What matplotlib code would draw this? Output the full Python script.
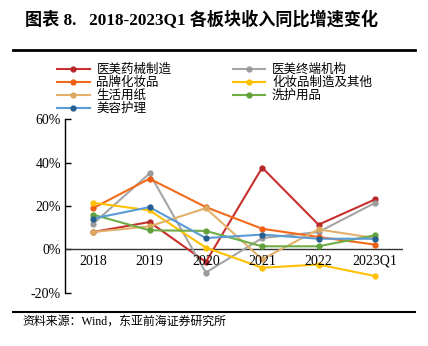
import matplotlib
matplotlib.use("Agg")
import matplotlib.pyplot as plt
from matplotlib.lines import Line2D

plt.rcParams['font.family'] = ['Liberation Serif', 'Noto Sans CJK SC']
plt.rcParams['axes.unicode_minus'] = False

categories = ["2018", "2019", "2020", "2021", "2022", "2023Q1"]
yl_yixie = [8.0, 12.6, -5.8, 37.7, 11.4, 23.0]      # 医美药械制造
yl_zhongduan = [11.8, 35.0, -10.7, 5.2, 8.0, 21.4]  # 医美终端机构
pinpai = [19.0, 32.6, 19.5, 9.5, 5.7, 2.2]          # 品牌化妆品
zhizao = [21.5, 18.0, 0.8, -8.5, -7.0, -12.3]       # 化妆品制造及其他
zhi = [8.0, 10.6, 19.0, -4.6, 9.2, 5.2]             # 生活用纸
xihu = [16.0, 8.8, 8.5, 1.4, 1.4, 6.5]              # 洗护用品
meirong = [14.2, 19.5, 5.2, 6.8, 4.9, 4.9]          # 美容护理

series = [
    ("医美药械制造", yl_yixie, "#C8302E", "#B8282A"),
    ("医美终端机构", yl_zhongduan, "#A5A5A5", "#9A9A9A"),
    ("品牌化妆品", pinpai, "#F26A1B", "#EE5F12"),
    ("化妆品制造及其他", zhizao, "#FFC000", "#FFC000"),
    ("生活用纸", zhi, "#E2B16C", "#DDA95F"),
    ("洗护用品", xihu, "#70AD47", "#62A03C"),
    ("美容护理", meirong, "#5B9BD5", "#255E91"),
]

fig = plt.figure(figsize=(4.28, 3.46), dpi=100)
W, H = 428, 346
ax = fig.add_axes([65 / W, 1 - 292.7 / H, (403 - 65) / W, (292.7 - 119.3) / H])

x = list(range(len(categories)))
handles = {}
for name, vals, lc, mc in series:
    h, = ax.plot(x, vals, color=lc, lw=1.5, marker='o', ms=3.5, mfc=mc, mec=mc, label=name, zorder=3)
    handles[name] = h

ax.set_xlim(-0.5, 5.5)
ax.set_ylim(-20, 60)
ax.set_yticks([-20, 0, 20, 40, 60])
ax.set_yticklabels([f"{v}%" for v in [-20, 0, 20, 40, 60]], fontsize=10)
ax.tick_params(axis='y', direction='in', length=4, width=1, pad=3)
ax.set_xticks([])
for sp in ['top', 'right', 'bottom']:
    ax.spines[sp].set_visible(False)
ax.spines['left'].set_linewidth(1.0)
ax.axhline(0, color='#333333', lw=1.0, zorder=2)
for xi, c in zip(x, categories):
    ax.text(xi, -2.6, c, ha='center', va='top', fontsize=10)

order = ["医美药械制造", "品牌化妆品", "生活用纸", "美容护理", "医美终端机构", "化妆品制造及其他", "洗护用品"]
leg = fig.legend([handles[n] for n in order], order, ncol=2, loc='upper left',
                 bbox_to_anchor=(57 / W, 1 - 63 / H), frameon=False,
                 handlelength=2.6, handletextpad=0.55, columnspacing=4.9, labelspacing=0.0,
                 borderaxespad=0, borderpad=0, prop={'family': ['Noto Sans CJK SC'], 'size': 9})

fig.text(25 / W, 1 - 20 / H, "图表 8.   2018-2023Q1 各板块收入同比增速变化", fontsize=12.3,
         fontweight='bold', va='center', ha='left')
fig.add_artist(Line2D([13 / W, 415 / W], [1 - 50 / H, 1 - 50 / H], color='black', lw=2))
fig.add_artist(Line2D([13 / W, 415 / W], [1 - 311.5 / H, 1 - 311.5 / H], color='black', lw=1.5))
fig.text(22 / W, 1 - 322 / H, "资料来源：Wind，东亚前海证券研究所", fontsize=8.6, va='center', ha='left')

fig.savefig("out.png", dpi=100)
